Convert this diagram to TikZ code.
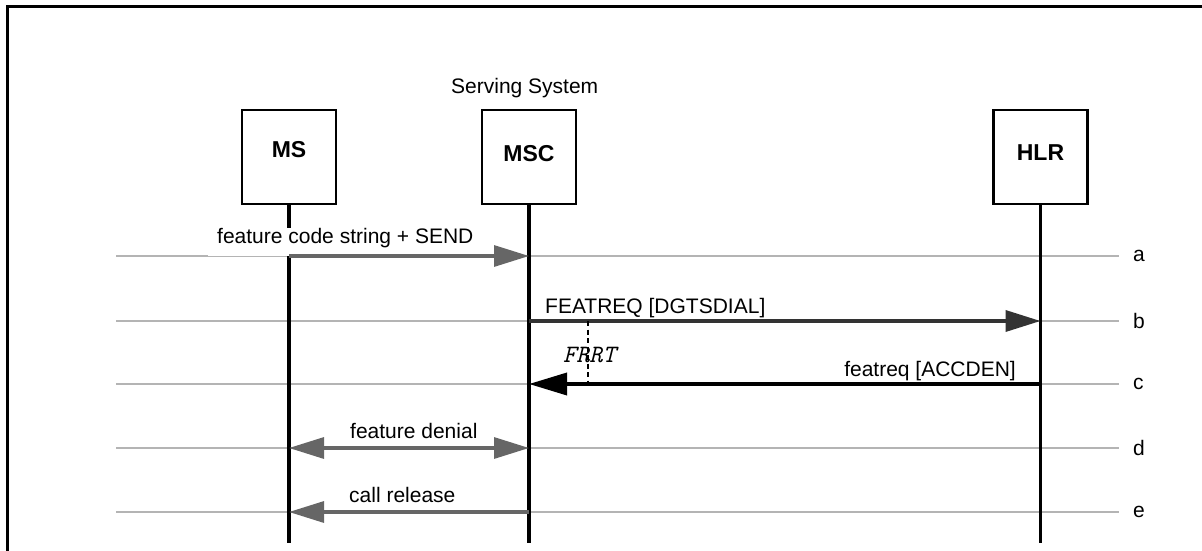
\documentclass[tikz,border=0pt]{standalone}
\usepackage{fontspec}
\setmainfont{Liberation Sans}
\usetikzlibrary{arrows.meta}
\definecolor{msggray}{HTML}{666666}
\definecolor{msgdark}{HTML}{333333}
\definecolor{rowgray}{HTML}{B4B4B4}

\begin{document}
\begin{tikzpicture}[x=1pt,y=-1pt,
  entity/.style={draw, line width=2.6pt, minimum width=94pt, minimum height=94pt,
    inner sep=0pt, font=\bfseries\fontsize{23}{23}\selectfont},
  lifeline/.style={line width=3.2pt},
  rowline/.style={draw=rowgray, line width=2.2pt},
  rowtag/.style={anchor=west, inner sep=0pt, font=\fontsize{21}{21}\selectfont},
  msg/.style={line width=3.2pt, draw=#1, -{Triangle[length=35pt,width=21pt]}},
  msgboth/.style={line width=3.2pt, draw=#1, {Triangle[length=35pt,width=21pt]}-{Triangle[length=35pt,width=21pt]}},
  lbl/.style={anchor=base west, inner sep=0pt, font=\fontsize{21}{21}\selectfont},
  timer/.style={line width=1.6pt, dash pattern=on 5pt off 3.5pt}
]
\useasboundingbox (0,0) rectangle (1202,551);

% outer frame (top and left edges)
\draw[line width=3pt] (7,570) -- (7,7) -- (1220,7);

% message rows with their tags
\foreach \r/\y in {a/256,b/321,c/384,d/448,e/512}{
  \coordinate (\r-l) at (116,\y);
  \coordinate (\r-r) at (1119,\y);
  \draw[rowline] (\r-l) -- (\r-r);
  \node[rowtag] (\r-tag) at (1133,\y) {\r};
}

% entities
\node[lbl] (sys) at (451,93) {Serving System};
\node[entity, text depth=15pt] (ms) at (289,157) {MS};
\node[entity, text depth=6.5pt] (msc) at (529,157) {MSC};
\node[entity, text depth=9.5pt] (hlr) at (1040.5,157) {HLR};

\coordinate (end) at (0,543);
\draw[lifeline] (ms.south) -- (ms |- end);
\draw[lifeline] (msc.south) -- (msc |- end);
\draw[lifeline] (hlr.south) -- (hlr |- end);

% label of the first message sits on a white patch over the lifeline
\node[anchor=base west, fill=white, inner xsep=9pt, inner ysep=7pt,
  text height=8pt, text depth=5.5pt, font=\fontsize{21}{21}\selectfont]
  (la) at (208,243) {feature code string + SEND};

% messages
\draw[msg=msggray] (ms |- a-l) -- (msc |- a-l);
\draw[msg=msgdark, line width=3.6pt] (msc |- b-l) -- (hlr |- b-l);
\draw[line width=3.6pt, -{Triangle[length=38pt,width=22pt]}] (hlr |- c-l) -- (msc |- c-l);
\draw[msgboth=msggray] (ms |- d-l) -- (msc |- d-l);
\draw[msg=msggray] (msc |- e-l) -- (ms |- e-l);

\node[lbl] (lb) at (545,313) {FEATREQ [DGTSDIAL]};
\node[lbl, anchor=base east] (lc) at (1016,376) {featreq [ACCDEN]};
\node[lbl] (ld) at (350,438) {feature denial};
\node[lbl] (le) at (349,502) {call release};

% response timer
\coordinate (t-top) at (588,0);
\draw[timer] (t-top |- b-l) -- (t-top |- c-l);
\node[anchor=base west, inner sep=0pt, font=\ttfamily\itshape\fontsize{25}{25}\selectfont]
  (frrt) at (563,362) {FRRT};
\end{tikzpicture}
\end{document}
